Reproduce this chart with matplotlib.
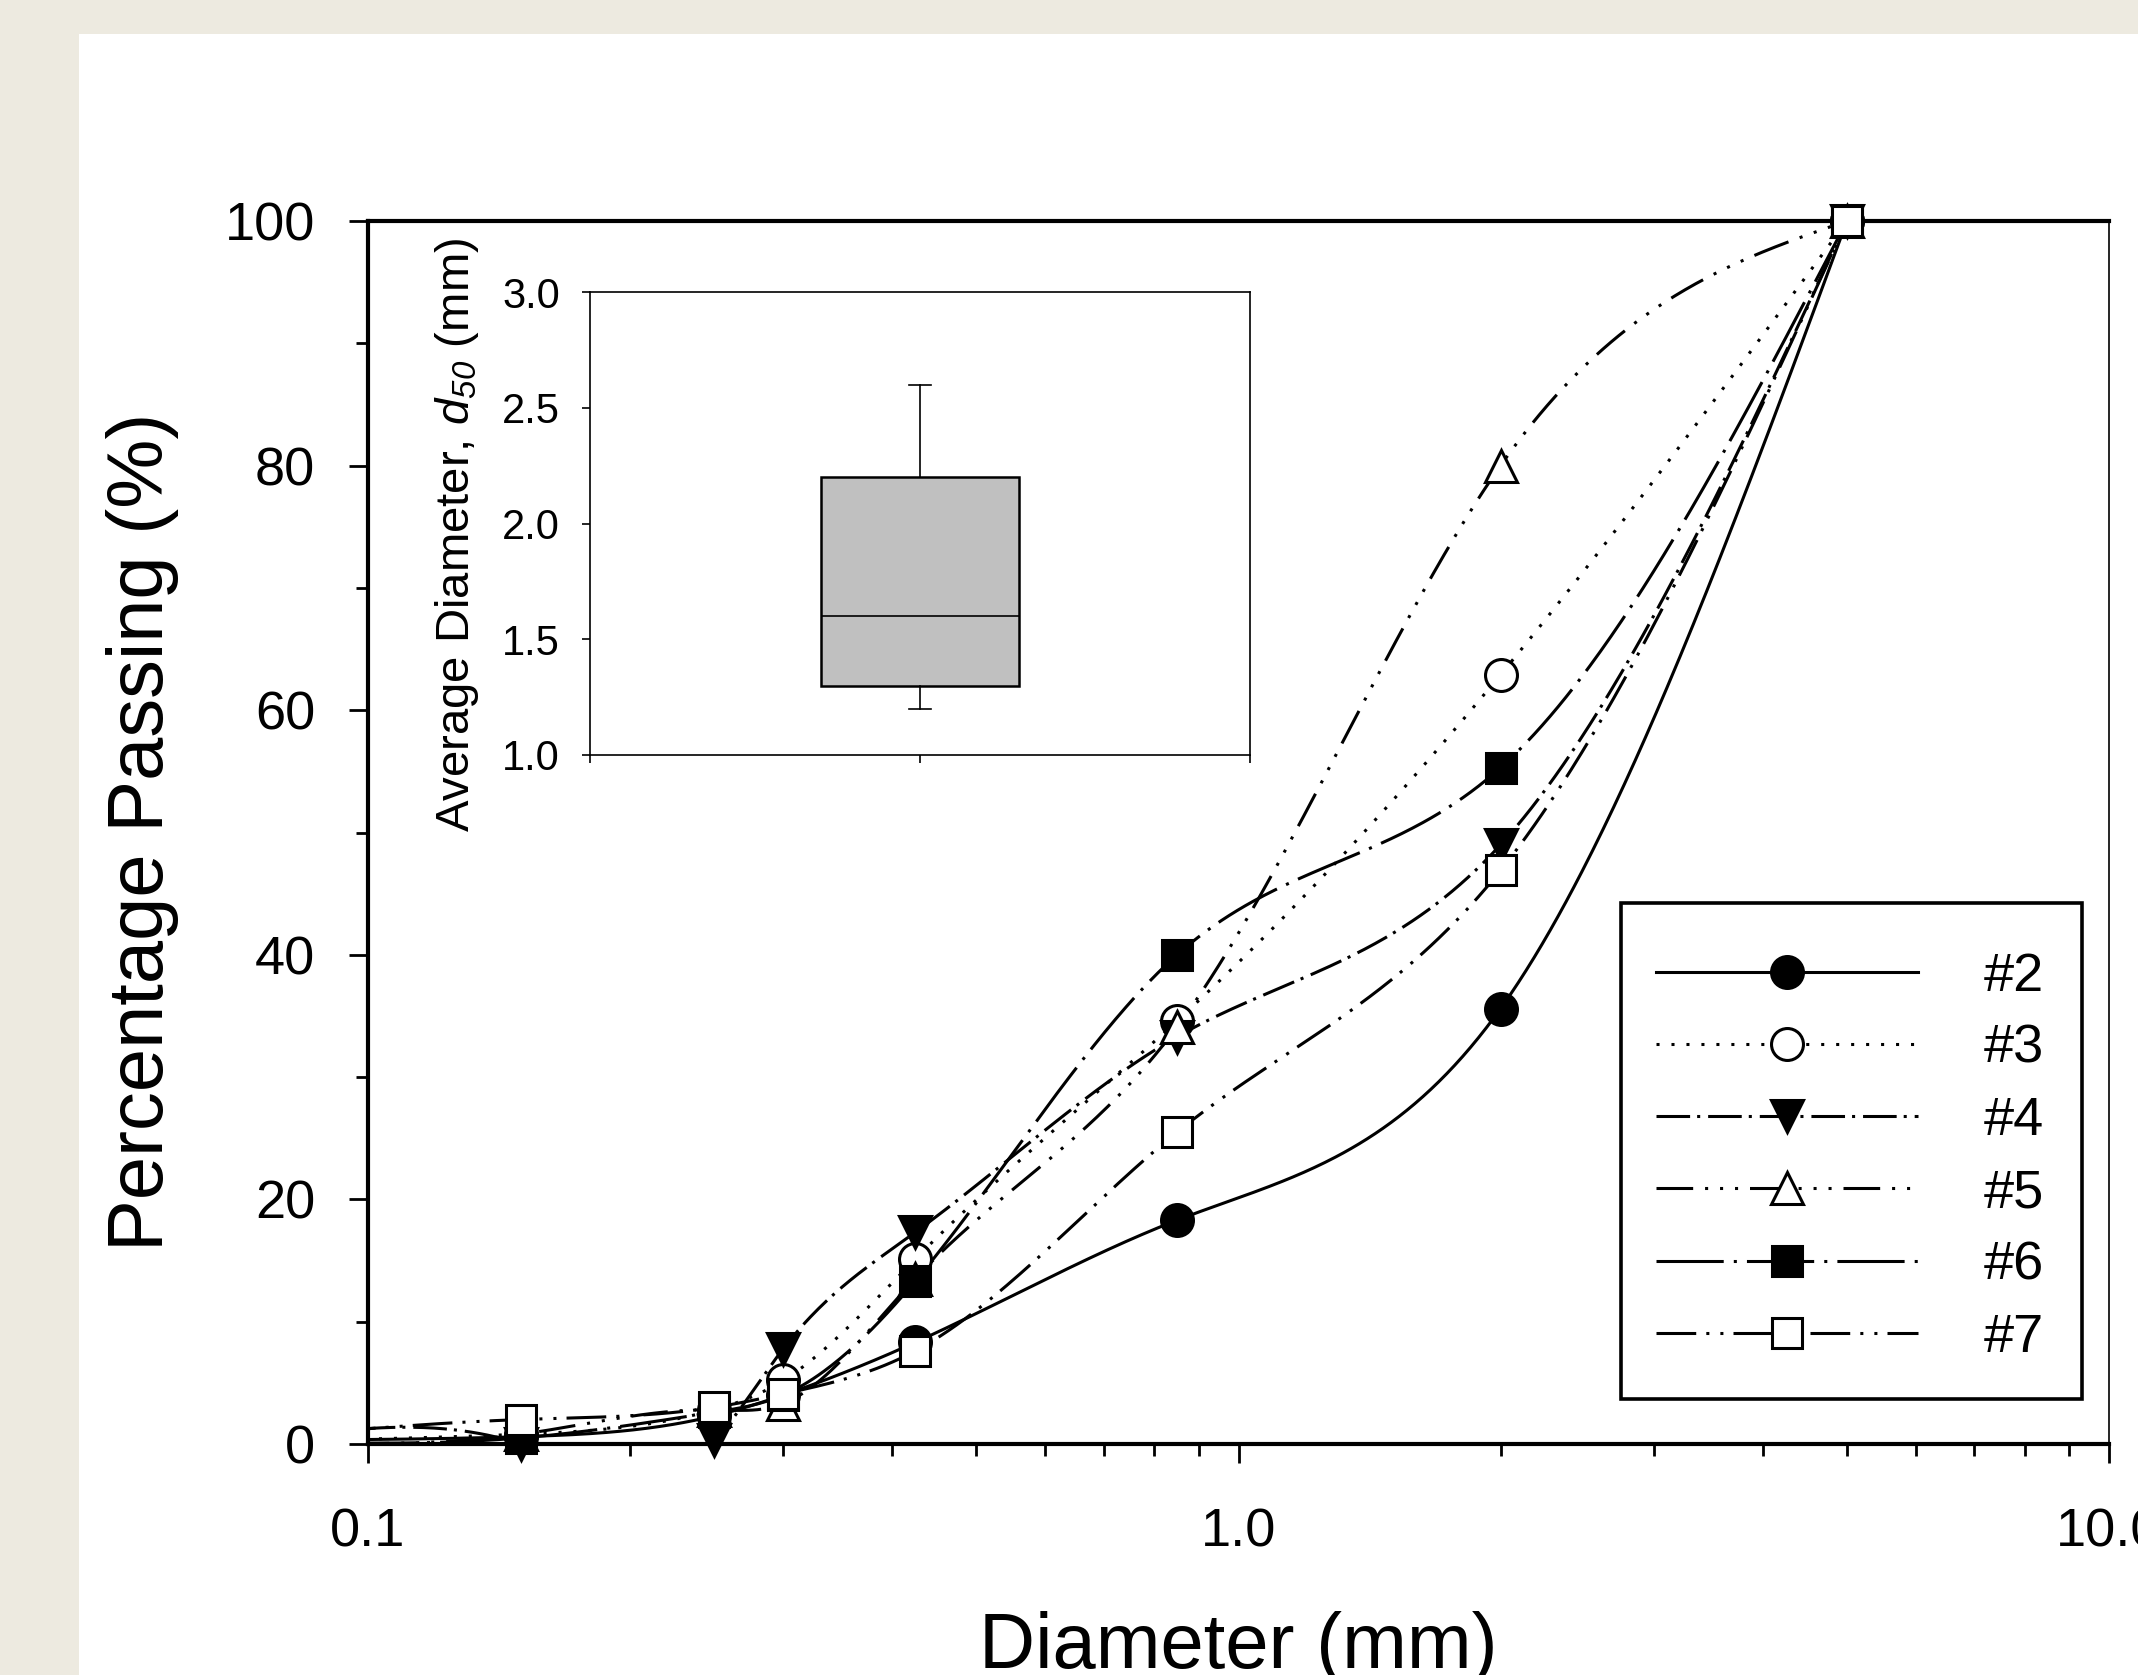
import numpy as np
import matplotlib
matplotlib.use('Agg')
import matplotlib.pyplot as plt
from matplotlib.patches import Rectangle
from matplotlib.lines import Line2D
from matplotlib.ticker import LogLocator, MultipleLocator, NullFormatter

plt.rcParams['font.family'] = ['Liberation Sans', 'DejaVu Sans']
plt.rcParams['mathtext.fontset'] = 'custom'
plt.rcParams['mathtext.rm'] = 'Liberation Sans'
plt.rcParams['mathtext.it'] = 'Liberation Sans:italic'
plt.rcParams['mathtext.sf'] = 'Liberation Sans:italic'

# sieve openings (mm); first one lies left of the plotted range
sieve_mm = [0.075, 0.15, 0.25, 0.3, 0.425, 0.85, 2.0, 5.0]

# percentage passing
pass_2 = [0.3, 0.6, 2.3, 4.0, 8.3, 18.3, 35.6, 100]
pass_3 = [0.2, 0.8, 2.8, 5.2, 15.1, 34.6, 62.9, 100]
pass_4 = [0.2, 0.0, 0.3, 7.8, 17.3, 33.3, 49.0, 100]
pass_5 = [0.2, 0.8, 2.8, 3.3, 13.5, 34.1, 80.0, 100]
pass_6 = [0.2, 0.5, 2.6, 4.0, 13.3, 40.0, 55.3, 100]
pass_7 = [0.5, 2.0, 3.0, 4.1, 7.6, 25.5, 46.9, 100]

sample_names = ['#2', '#3', '#4', '#5', '#6', '#7']
all_pass = [pass_2, pass_3, pass_4, pass_5, pass_6, pass_7]

# d50 box plot stats (mm)
d50_whislo = 1.2
d50_q1 = 1.3
d50_med = 1.6
d50_q3 = 2.2
d50_whishi = 2.6


def spline_curve(x, y, n=600):
    # natural cubic spline in log10(x), like the smooth curves of the original
    u = np.log10(np.asarray(x, float))
    y = np.asarray(y, float)
    m = len(u)
    h = np.diff(u)
    A = np.zeros((m, m))
    b = np.zeros(m)
    A[0, 0] = A[-1, -1] = 1.0
    for i in range(1, m - 1):
        A[i, i - 1] = h[i - 1]
        A[i, i] = 2 * (h[i - 1] + h[i])
        A[i, i + 1] = h[i]
        b[i] = 6 * ((y[i + 1] - y[i]) / h[i] - (y[i] - y[i - 1]) / h[i - 1])
    M = np.linalg.solve(A, b)
    us = np.linspace(u[0], u[-1], n)
    k = np.clip(np.searchsorted(u, us) - 1, 0, m - 2)
    hk = h[k]
    a = u[k + 1] - us
    c = us - u[k]
    ys = (M[k] * a ** 3 / (6 * hk) + M[k + 1] * c ** 3 / (6 * hk)
          + (y[k] / hk - M[k] * hk / 6) * a + (y[k + 1] / hk - M[k + 1] * hk / 6) * c)
    return 10 ** us, ys


styles = [
    dict(marker='o', mfc='black', ms=11.5, ls='-'),
    dict(marker='o', mfc='white', ms=11.5, ls=(0, (1, 3.9))),
    dict(marker='v', mfc='black', ms=11.5, ls=(0, (11, 2.3, 1, 2.6))),
    dict(marker='^', mfc='white', ms=11.5, ls=(0, (12, 3.9, 1, 3.9, 1, 3.9, 1, 3.9))),
    dict(marker='s', mfc='black', ms=10.5, ls=(0, (22, 3.3, 1, 3.3))),
    dict(marker='s', mfc='white', ms=10.5, ls=(0, (13, 3.3, 1, 3.6, 1, 3.3))),
]

W, H = 2138, 1675
fig = plt.figure(figsize=(W / 200, H / 200), dpi=200, facecolor='#EDEAE0')
fig.patches.append(Rectangle((79 / W, 0), 1, 1 - 34 / H, transform=fig.transFigure,
                             facecolor='white', edgecolor='none', zorder=-5))

ax = fig.add_axes([368 / W, 1 - 1444 / H, (2109 - 368) / W, (1444 - 221) / H])
ax.set_xscale('log')
ax.set_xlim(0.1, 10)
ax.set_ylim(0, 100)

x_arr = np.array(sieve_mm)
handles = []
for i, (vals, st) in enumerate(zip(all_pass, styles)):
    xs, ys = spline_curve(sieve_mm, vals)
    ax.plot(xs, ys, color='black', lw=1.1, ls=st['ls'], dash_capstyle='butt', zorder=2)
    keep = x_arr >= 0.1
    ax.plot(x_arr[keep], np.array(vals)[keep], ls='none', marker=st['marker'], ms=st['ms'],
            mfc=st['mfc'], mec='black', mew=1.1, clip_on=False, zorder=3 + i)
    handles.append(Line2D([], [], color='black', lw=1.1, ls=st['ls'], marker=st['marker'],
                          ms=st['ms'], mfc=st['mfc'], mec='black', mew=1.1))

ax.set_xticks([0.1, 1, 10])
ax.set_xticklabels(['0.1', '1.0', '10.0'])
ax.xaxis.set_minor_locator(LogLocator(base=10, subs=np.arange(2, 10) * 1.0, numticks=20))
ax.xaxis.set_minor_formatter(NullFormatter())
ax.yaxis.set_major_locator(MultipleLocator(20))
ax.yaxis.set_minor_locator(MultipleLocator(10))
ax.tick_params(which='both', direction='out', top=False, right=False, width=1.0)
ax.tick_params(which='major', length=7, labelsize=19.5)
ax.tick_params(which='minor', length=4.3)
ax.tick_params(axis='x', which='major', pad=16)
ax.tick_params(axis='y', which='major', pad=12)
for side in ['left', 'bottom', 'top']:
    ax.spines[side].set_linewidth(1.5)
ax.spines['right'].set_linewidth(0.6)

# legend box drawn separately so its size matches the original
ax.add_patch(Rectangle((0.7197, 0.0368), 0.2648, 0.4056, transform=ax.transAxes,
                       facecolor='white', edgecolor='black', lw=1.3, zorder=10))
leg = ax.legend(handles, sample_names, loc='upper left', bbox_to_anchor=(0.7197, 0.4313),
                borderaxespad=0, fontsize=19.5, handlelength=4.83, handletextpad=1.21,
                labelspacing=0.41, borderpad=0.65, frameon=False)
leg.set_zorder(11)

fig.text(143 / W, 1 - 832 / H, 'Percentage Passing (%)', rotation=90, ha='center',
         va='center', fontsize=28)
fig.text(1238.7 / W, 1 - 1668 / H, 'Diameter (mm)', ha='center', va='baseline', fontsize=28)

# inset box plot of d50
axi = fig.add_axes([590 / W, 1 - 755 / H, (1250 - 590) / W, (755 - 292) / H])
stats = [dict(whislo=d50_whislo, q1=d50_q1, med=d50_med, q3=d50_q3, whishi=d50_whishi)]
axi.bxp(stats, positions=[1], widths=0.6, capwidths=0.068, patch_artist=True, showfliers=False,
        boxprops=dict(facecolor='#C0C0C0', edgecolor='black', linewidth=0.9),
        medianprops=dict(color='black', linewidth=0.6),
        whiskerprops=dict(color='black', linewidth=0.6),
        capprops=dict(color='black', linewidth=0.6))
axi.set_xlim(0, 2)
axi.set_ylim(1, 3)
axi.set_xticks([0, 1, 2])
axi.set_xticklabels([])
axi.set_yticks([1.0, 1.5, 2.0, 2.5, 3.0])
axi.set_yticklabels(['1.0', '1.5', '2.0', '2.5', '3.0'])
axi.tick_params(direction='out', length=2.9, width=0.6, labelsize=15, pad=8)
for s in axi.spines.values():
    s.set_linewidth(0.6)
fig.text(457 / W, 1 - 535 / H, r'Average Diameter, $\mathsf{d}_{\mathsf{50}}$ (mm)',
         rotation=90, ha='center', va='center', fontsize=17)

fig.savefig('out.png', dpi=200, facecolor=fig.get_facecolor())
